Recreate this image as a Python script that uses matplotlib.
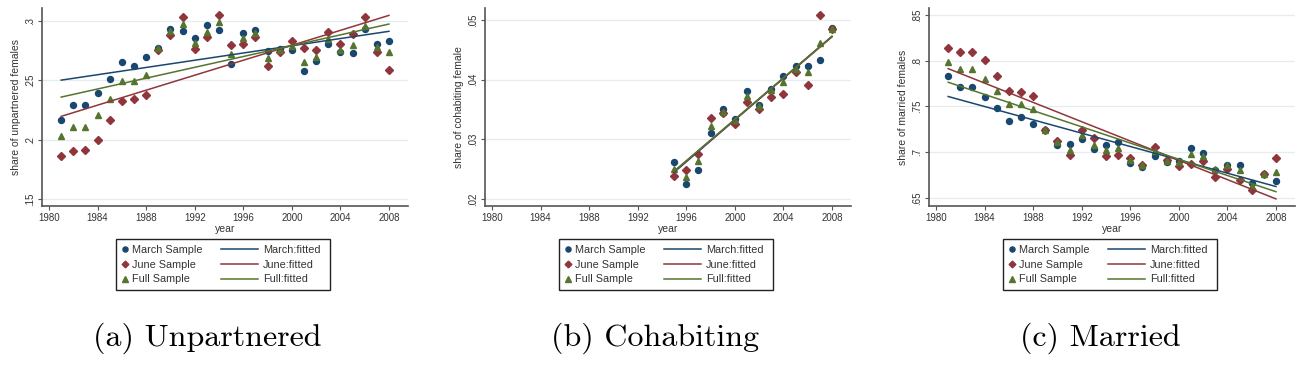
import matplotlib
matplotlib.use('Agg')
import matplotlib.pyplot as plt
import numpy as np
from matplotlib.ticker import FuncFormatter
from matplotlib.patches import Rectangle

years = list(range(1981, 2009))
years_cohab = list(range(1995, 2009))

# (a) unpartnered
unp_march = [0.217, 0.229, 0.229, 0.239, 0.2515, 0.2655, 0.262, 0.2695, 0.2776, 0.2933,
             0.2916, 0.286, 0.2964, 0.2924, 0.2636, 0.2896, 0.2924, 0.2745, 0.2767, 0.276,
             0.258, 0.266, 0.281, 0.2737, 0.2734, 0.293, 0.281, 0.283]
unp_june = [0.186, 0.1908, 0.191, 0.200, 0.2162, 0.233, 0.2347, 0.2375, 0.2756, 0.2885,
            0.3036, 0.2765, 0.2863, 0.305, 0.280, 0.281, 0.2868, 0.262, 0.274, 0.2835,
            0.2776, 0.2756, 0.291, 0.281, 0.289, 0.303, 0.274, 0.2588]
unp_full = [0.2028, 0.2104, 0.2106, 0.2204, 0.2347, 0.2496, 0.2496, 0.2543, 0.2776, 0.2919,
            0.2978, 0.2818, 0.291, 0.2989, 0.2723, 0.2854, 0.2902, 0.2686, 0.276, 0.279,
            0.2658, 0.2695, 0.2846, 0.276, 0.280, 0.296, 0.2784, 0.274]

# (b) cohabiting
coh_march = [0.0261, 0.02246, 0.02486, 0.0310, 0.0350, 0.03335, 0.0380, 0.03575, 0.0384,
             0.0406, 0.0423, 0.0422, 0.0433, 0.0486]
coh_june = [0.0239, 0.0249, 0.0275, 0.0335, 0.0344, 0.0326, 0.0363, 0.0350, 0.0371,
            0.0375, 0.0412, 0.0391, 0.0508, 0.0484]
coh_full = [0.0250, 0.0237, 0.0263, 0.0322, 0.0346, 0.0332, 0.0373, 0.0355, 0.0383,
            0.0396, 0.0417, 0.0412, 0.0461, 0.0485]

# (c) married
mar_march = [0.783, 0.7715, 0.7715, 0.7605, 0.748, 0.7344, 0.738, 0.7307, 0.7238, 0.7075,
             0.7089, 0.7147, 0.7038, 0.7082, 0.711, 0.6882, 0.6835, 0.6955, 0.689, 0.690,
             0.7049, 0.6987, 0.6809, 0.6856, 0.6856, 0.6664, 0.6762, 0.6689]
mar_june = [0.8144, 0.8093, 0.8093, 0.8005, 0.7835, 0.767, 0.7653, 0.762, 0.7238, 0.7118,
            0.6969, 0.7245, 0.7155, 0.6955, 0.6965, 0.694, 0.6856, 0.7053, 0.6911, 0.6845,
            0.6867, 0.690, 0.6725, 0.682, 0.670, 0.6585, 0.6762, 0.6936]
mar_full = [0.7984, 0.7911, 0.7907, 0.7805, 0.767, 0.7522, 0.7522, 0.7475, 0.7238, 0.7111,
            0.7027, 0.7187, 0.7075, 0.7027, 0.7045, 0.6918, 0.6856, 0.701, 0.6907, 0.689,
            0.6984, 0.6955, 0.682, 0.6856, 0.6802, 0.6627, 0.6762, 0.6784]

panels = [
    (years, unp_march, unp_june, unp_full, 'share of unpartnered females',
     [0.15, 0.2, 0.25, 0.3], (0.1441, 0.311), '(a) Unpartnered'),
    (years_cohab, coh_march, coh_june, coh_full, 'share of cohabiting female',
     [0.02, 0.03, 0.04, 0.05], (0.0188, 0.052), '(b) Cohabiting'),
    (years, mar_march, mar_june, mar_full, 'share of married females',
     [0.65, 0.7, 0.75, 0.8, 0.85], (0.6413, 0.8576), '(c) Married'),
]

navy = '#1a476f'
maroon = '#90353b'
green = '#55752f'
lefts = [42, 485, 929]
caption_x = [207, 655, 1100]

W, H = 1314, 371
plt.rcParams['font.family'] = ['Liberation Sans', 'DejaVu Sans']
fig = plt.figure(figsize=(W / 100, H / 100), dpi=100)


def fmt(v, pos):
    s = ('%.2f' % v).rstrip('0').rstrip('.')
    return s[1:] if s.startswith('0') else s


def fx(px):
    return px / W


def fy(py):
    return (H - py) / H


lfs = 7.8
for i, (x, m, j, f, ylab, yt, ylim, cap) in enumerate(panels):
    ax = fig.add_axes([fx(lefts[i]), fy(206), 366 / W, 198 / H])
    x = np.array(x)
    ax.grid(axis='y', color='#e4ecee', lw=0.9)
    ax.set_axisbelow(True)
    pts = []
    pts += ax.plot(x, m, 'o', color=navy, ms=4.3, mec=navy, label='March Sample')
    pts += ax.plot(x, j, 'D', color=maroon, ms=4.0, mec=maroon, label='June Sample')
    pts += ax.plot(x, f, '^', color=green, ms=4.6, mec=green, label='Full Sample')
    fits = []
    for ys, c, lab in [(m, navy, 'March:fitted'), (j, maroon, 'June:fitted'), (f, green, 'Full:fitted')]:
        b, a = np.polyfit(x, ys, 1)
        fits += ax.plot(x, a + b * x, color=c, lw=1.1, label=lab)
    ax.set_xlim(1979.42, 2009.57)
    ax.set_ylim(*ylim)
    ax.set_xticks(range(1980, 2009, 4))
    ax.set_yticks(yt)
    ax.yaxis.set_major_formatter(FuncFormatter(fmt))
    for s in ['top', 'right']:
        ax.spines[s].set_visible(False)
    for s in ['left', 'bottom']:
        ax.spines[s].set_color('#555555')
        ax.spines[s].set_linewidth(1.2)
    ax.tick_params(length=3, width=0.8, color='#555555', labelsize=7, pad=2, labelcolor='#333333')
    for t in ax.get_yticklabels():
        t.set_rotation(90)
        t.set_va('center')
    ax.set_xlabel('year', fontsize=7.5, labelpad=1, color='#333333')
    ax.set_ylabel(ylab, fontsize=7.5, labelpad=3, color='#333333')

    # legend: marker column + line column inside one box
    c = lefts[i] + 183
    leg1 = ax.legend(pts, [p.get_label() for p in pts], loc='upper left',
                     bbox_to_anchor=(fx(c - 104), fy(245)), bbox_transform=fig.transFigure,
                     frameon=False, fontsize=lfs, handlelength=0.8, handletextpad=0.25,
                     borderpad=0, borderaxespad=0, labelspacing=0.43, markerscale=0.85,
                     labelcolor='#333333')
    ax.add_artist(leg1)
    ax.legend(fits, [p.get_label() for p in fits], loc='upper left',
              bbox_to_anchor=(fx(c - 4.5), fy(245)), bbox_transform=fig.transFigure,
              frameon=False, fontsize=lfs, handlelength=3.5, handletextpad=0.45,
              borderpad=0, borderaxespad=0, labelspacing=0.43, labelcolor='#333333')
    fig.add_artist(Rectangle((fx(c - 109.5), fy(290)), 214 / W, 51 / H,
                             transform=fig.transFigure, fill=False, ec='#222222', lw=1.0))

    fig.text(fx(caption_x[i]), fy(338), cap, family='cmr10', fontsize=23,
             ha='center', va='center')

fig.savefig('out.png', dpi=100)
